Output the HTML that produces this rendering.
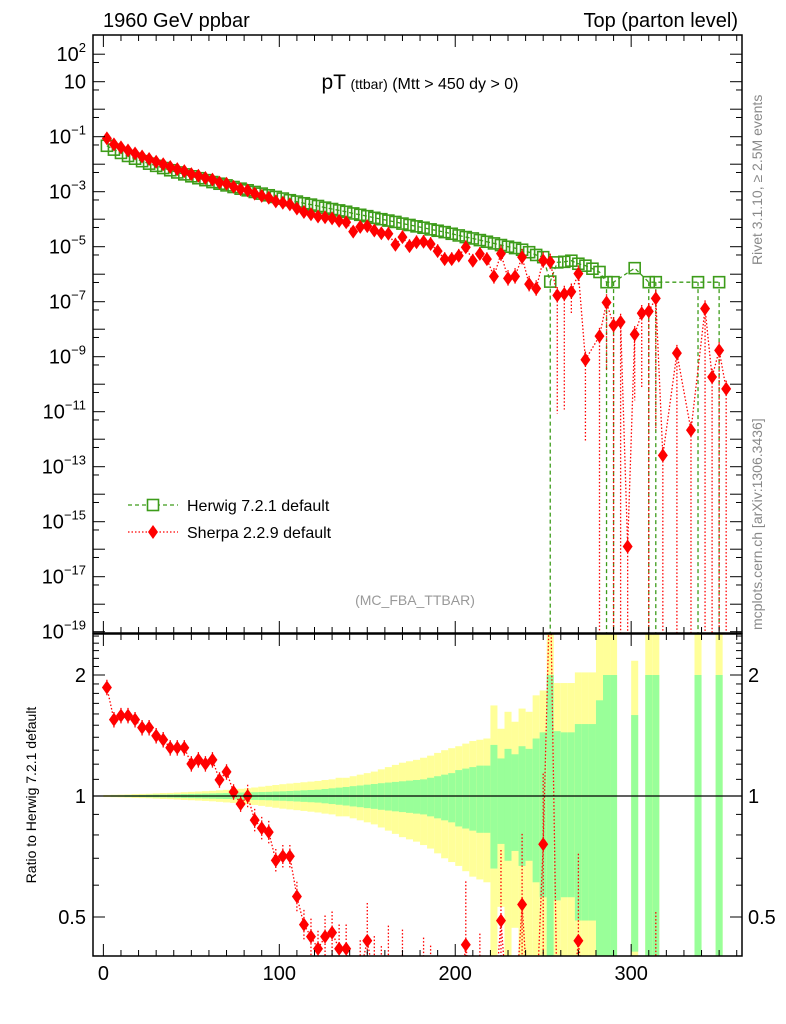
<!DOCTYPE html>
<html><head><meta charset="utf-8"><style>
html,body{margin:0;padding:0;background:#fff;width:786px;height:1024px;overflow:hidden;}
svg{display:block;font-family:"Liberation Sans",Arial,sans-serif;}
</style></head><body>
<svg id="c" width="786" height="1024" viewBox="0 0 786 1024" xmlns="http://www.w3.org/2000/svg">
<defs>
<clipPath id="cm"><rect x="93" y="35" width="649" height="598"/></clipPath>
<clipPath id="cr"><rect x="93" y="634" width="649" height="322"/></clipPath>
</defs>
<rect x="0" y="0" width="786" height="1024" fill="#fff"/>
<g id="bands" clip-path="url(#cr)"></g>
<g id="mainMarks" clip-path="url(#cm)"></g>
<g id="ratioMarks" clip-path="url(#cr)"></g>
<g id="axes"></g>
<text x="103" y="27" font-size="20">1960 GeV ppbar</text>
<text x="738" y="27" font-size="20" text-anchor="end">Top (parton level)</text>
<text x="420" y="89" text-anchor="middle"><tspan font-size="21">pT</tspan><tspan font-size="16"> </tspan><tspan font-size="14">(ttbar)</tspan><tspan font-size="16"> (Mtt &gt; 450 dy &gt; 0)</tspan></text>
<text x="415" y="605" font-size="14" fill="#999" text-anchor="middle">(MC_FBA_TTBAR)</text>
<text transform="translate(762,265) rotate(-90)" font-size="14" fill="#888">Rivet 3.1.10, ≥ 2.5M events</text>
<text transform="translate(762,630) rotate(-90)" font-size="14" fill="#888">mcplots.cern.ch [arXiv:1306.3436]</text>
<text transform="translate(36,795) rotate(-90)" font-size="14" text-anchor="middle">Ratio to Herwig 7.2.1 default</text>
<g>
<g>
<line x1="128" y1="505" x2="178" y2="505" stroke="#3d9c1a" stroke-width="1.3" stroke-dasharray="4,3"/>
<line x1="153" y1="499" x2="153" y2="511" stroke="#3d9c1a" stroke-width="1.3"/>
<rect x="147.5" y="499.5" width="11" height="11" fill="#fff" stroke="#3d9c1a" stroke-width="1.6"/>
<text x="187" y="511" font-size="16">Herwig 7.2.1 default</text>
</g>
<g>
<line x1="128" y1="532" x2="178" y2="532" stroke="#f00" stroke-width="1.3" stroke-dasharray="1.5,2"/>
<polygon points="153,525 158,532 153,539 148,532" fill="#f00"/>
<text x="187" y="538" font-size="16">Sherpa 2.2.9 default</text>
</g>
</g>
</svg>
<script>
const binLow = 0;
const binWidth = 4;
const herwigLog = [-1.33,-1.47,-1.59,-1.70,-1.80,-1.89,-1.98,-2.06,-2.14,-2.22,
-2.30,-2.37,-2.44,-2.51,-2.58,-2.65,-2.71,-2.77,-2.83,-2.89,
-2.95,-3.01,-3.07,-3.13,-3.19,-3.25,-3.31,-3.36,-3.42,-3.47,
-3.52,-3.58,-3.63,-3.68,-3.73,-3.79,-3.84,-3.89,-3.95,-4.00,
-4.05,-4.10,-4.16,-4.21,-4.26,-4.31,-4.37,-4.42,-4.47,-4.53,
-4.59,-4.65,-4.70,-4.76,-4.82,-4.88,-4.94,-5.00,-5.05,-5.11,
-5.20,-5.30,-5.38,-6.27,-5.57,-5.55,-5.51,-5.62,-5.69,-5.80,
-5.92,-6.29,-6.29,null,null,-5.78,null,-6.29,-6.29,null,
null,null,null,null,-6.29,null,null,-6.29,null,null];
const sherpaLog = [-1.06,-1.28,-1.39,-1.50,-1.61,-1.72,-1.81,-1.91,-2.00,-2.10,
-2.18,-2.25,-2.36,-2.42,-2.50,-2.56,-2.67,-2.71,-2.82,-2.91,
-2.95,-3.07,-3.15,-3.22,-3.35,-3.40,-3.46,-3.61,-3.74,-3.82,
-3.90,-3.93,-3.97,-4.06,-4.11,-4.45,-4.28,-4.25,-4.41,-4.51,
-4.53,-4.93,-4.65,-4.98,-4.84,-4.82,-4.90,-5.16,-5.45,-5.45,
-5.33,-5.02,-5.51,-5.26,-5.45,-6.08,-5.25,-6.15,-6.08,-5.38,
-6.36,-6.52,-5.50,-5.55,-6.77,-6.72,-6.64,-5.98,-9.11,null,
-8.25,-7.03,-7.86,-7.74,-15.9,-8.19,-7.42,-7.35,-6.88,-12.59,
null,-8.87,null,-11.67,null,-7.25,-9.74,-8.77,-10.17,null];
const sherpaErrDn = [0.02,0.02,0.02,0.02,0.02,0.02,0.02,0.02,0.02,0.02,
0.02,0.02,0.02,0.02,0.02,0.02,0.02,0.02,0.02,0.02,
0.03,0.03,0.03,0.03,0.03,0.03,0.03,0.04,0.04,0.05,
0.05,0.06,0.06,0.07,0.07,0.1,0.1,0.12,0.15,0.2,
0.25,0.25,0.25,0.25,0.25,0.25,0.25,0.25,0.25,0.25,
0.25,0.25,0.25,0.25,0.25,0.3,0.3,0.3,0.3,0.3,
0.3,0.3,0.3,0.3,4.3,4.2,0.8,0.45,3,0,
99,2.5,99,99,99,2.4,2.7,99,4.8,99,
0,99,0,99,0,99,99,99,99,0];
const bandGreen = [.003,.004,.004,.005,.005,.006,.007,.008,.008,.009,
.010,.011,.012,.013,.014,.015,.016,.017,.018,.020,
.021,.022,.023,.024,.026,.027,.029,.031,.033,.035,
.037,.041,.045,.049,.053,.058,.062,.067,.071,.076,
.080,.084,.088,.092,.096,.10,.11,.12,.13,.14,
.16,.17,.18,.19,.19,.34,.24,.31,.27,.33,
.31,.39,.44,1,.45,.44,.44,.51,.51,.51,
.73,1,1,null,null,.59,null,1,1,null,
null,null,null,null,1,null,null,1,null,null];
const bandYellow = [.006,.007,.008,.009,.011,.012,.013,.015,.017,.018,
.020,.022,.024,.026,.028,.030,.033,.036,.039,.042,
.045,.050,.055,.060,.065,.070,.074,.078,.082,.086,
.09,.096,.10,.11,.11,.12,.13,.14,.15,.165,
.18,.195,.21,.22,.23,.245,.26,.28,.30,.315,
.33,.35,.37,.38,.39,.68,.47,.62,.53,.65,
.62,.78,.83,1.6,.91,.91,.91,1.03,1.03,1.03,
1.6,1.6,1.6,null,null,1.17,null,1.6,1.6,null,
null,null,null,null,1.6,null,null,1.6,null,null];
const xTickLabels = ["0","100","200","300"];
const yMainLabels = [2,1,-1,-3,-5,-7,-9,-11,-13,-15,-17,-19];
const yRatioLabels = ["0.5","1","2"];

const NS = "http://www.w3.org/2000/svg";
function mk(tag, attrs, parent){ const e=document.createElementNS(NS,tag); for(const k in attrs) e.setAttribute(k,attrs[k]); parent.appendChild(e); return e; }
const X0=93, X1=742, XMIN=-5.9, XMAX=363;
function xs(v){ return X0+(v-XMIN)/(XMAX-XMIN)*(X1-X0); }
function ym(lg){ return 81.7+(1-lg)*27.5; }
function yr(r){ return 796-121*Math.log2(r); }
const MT=35, MB=633, RT=634, RB=956;

const bands=document.getElementById('bands');
for(let i=0;i<bandGreen.length;i++){
  if(bandGreen[i]==null) continue;
  const xl=xs(binLow+i*binWidth), xr=xs(binLow+(i+1)*binWidth);
  const ey=bandYellow[i], eg=bandGreen[i];
  const yt=Math.max(yr(1+ey),RT-5), yb=(1-ey)>0.01?Math.min(yr(1-ey),RB+5):RB+5;
  const ry=mk('rect',{x:xl,y:yt,width:xr-xl,height:yb-yt,fill:'#ffff99'},bands);
  
  
  const gt=Math.max(yr(1+eg),RT-5), gb=(1-eg)>0.01?Math.min(yr(1-eg),RB+5):RB+5;
  const rg=mk('rect',{x:xl,y:gt,width:xr-xl,height:gb-gt,fill:'#99ff99'},bands);
  
  
}

const axes=document.getElementById('axes');
mk('rect',{x:X0,y:MT,width:X1-X0,height:MB-MT,fill:'none',stroke:'#000','stroke-width':1.5},axes);
mk('rect',{x:X0,y:RT,width:X1-X0,height:RB-RT,fill:'none',stroke:'#000','stroke-width':1.5},axes);
const ul=mk('line',{x1:X0,y1:yr(1),x2:X1,y2:yr(1),stroke:'#000','stroke-width':1.2},axes);


for(let v=0; v<=360; v+=10){
  const x=xs(v), big=(v%100===0), len=big?12:6;
  mk('line',{x1:x,y1:RB,x2:x,y2:RB-len,stroke:'#000','stroke-width':1},axes);
  mk('line',{x1:x,y1:RT,x2:x,y2:RT+len,stroke:'#000','stroke-width':1},axes);
  mk('line',{x1:x,y1:MB,x2:x,y2:MB-len,stroke:'#000','stroke-width':1},axes);
  mk('line',{x1:x,y1:MT,x2:x,y2:MT+len,stroke:'#000','stroke-width':1},axes);
}
xTickLabels.forEach(s=>{
  const t=mk('text',{x:xs(+s),y:980,'font-size':20,'text-anchor':'middle'},axes);
  t.textContent=s;
  
  
});
for(let d=2; d>=-19; d--){
  const y=ym(d);
  if(y>MT && y<MB){
    mk('line',{x1:X0,y1:y,x2:X0+12,y2:y,stroke:'#000'},axes);
    mk('line',{x1:X1,y1:y,x2:X1-12,y2:y,stroke:'#000'},axes);
  }
  const y5=ym(d-1+Math.log10(5));
  if(y5>MT && y5<MB){
    mk('line',{x1:X0,y1:y5,x2:X0+6,y2:y5,stroke:'#000'},axes);
    mk('line',{x1:X1,y1:y5,x2:X1-6,y2:y5,stroke:'#000'},axes);
  }
}
yMainLabels.forEach(d=>{
  const t=mk('text',{x:86,y:ym(d)+7,'font-size':20,'text-anchor':'end'},axes);
  
  
  if(d===1){ t.textContent='10'; }
  else { t.textContent='10'; const s=mk('tspan',{'font-size':13,dy:-9},t); s.textContent=String(d).replace('-','\u2212'); }
});
const rMinor=[0.4,0.5,0.6,0.7,0.8,0.9,1,1.1,1.2,1.3,1.4,1.5,1.6,1.7,1.8,1.9,2,2.1,2.2,2.3,2.4,2.5];
rMinor.forEach(r=>{
  const y=yr(r); if(y<=RT||y>=RB) return;
  const big=(r===0.5||r===1||r===2), len=big?12:6;
  mk('line',{x1:X0,y1:y,x2:X0+len,y2:y,stroke:'#000'},axes);
  mk('line',{x1:X1,y1:y,x2:X1-len,y2:y,stroke:'#000'},axes);
});
yRatioLabels.forEach(s=>{
  const t=mk('text',{x:86,y:yr(+s)+7,'font-size':20,'text-anchor':'end'},axes);
  t.textContent=s;
  
  
  const t2=mk('text',{x:748,y:yr(+s)+7,'font-size':20},axes);
  t2.textContent=s;
  
  
});

const mm=document.getElementById('mainMarks');
const cx=i=>xs(binLow+(i+0.5)*binWidth);
let hp=[];
herwigLog.forEach((v,i)=>{ if(v!=null) hp.push(cx(i)+','+ym(v)); });
const hl=mk('polyline',{points:hp.join(' '),fill:'none',stroke:'#3d9c1a','stroke-width':1.3,'stroke-dasharray':'4,3'},mm);


herwigLog.forEach((v,i)=>{
  if(v==null) return;
  if(bandGreen[i]>=1){ const e=mk('line',{x1:cx(i),y1:ym(v),x2:cx(i),y2:MB+5,stroke:'#3d9c1a','stroke-width':1.3,'stroke-dasharray':'4,3'},mm);
    
     }
  const r=mk('rect',{x:cx(i)-5.5,y:ym(v)-5.5,width:11,height:11,fill:'none',stroke:'#3d9c1a','stroke-width':1.6},mm);
  
  
});
let sp=[];
sherpaLog.forEach((v,i)=>{ if(v!=null) sp.push(cx(i)+','+ym(v)); });
const sl=mk('polyline',{points:sp.join(' '),fill:'none',stroke:'#f00','stroke-width':1.3,'stroke-dasharray':'1.5,2'},mm);


sherpaLog.forEach((v,i)=>{
  if(v==null) return;
  const x=cx(i), y=ym(v), ed=sherpaErrDn[i];
  if(ed>0.05){
    const yd=ed>50?MB+5:ym(v-ed), yu=ym(v+Math.min(ed,0.3));
    const e=mk('line',{x1:x,y1:yu,x2:x,y2:yd,stroke:'#f00','stroke-width':1.3,'stroke-dasharray':'1.5,2'},mm);
    
    
  }
  const p=mk('polygon',{points:`${x},${y-7} ${x+5},${y} ${x},${y+7} ${x-5},${y}`,fill:'#f00'},mm);
  
  
});

const rm=document.getElementById('ratioMarks');
let rp=[];
const ratios=sherpaLog.map((v,i)=> (v==null||herwigLog[i]==null)?null:Math.pow(10,v-herwigLog[i]));
ratios.forEach((r,i)=>{ if(r!=null) rp.push(cx(i)+','+Math.max(Math.min(yr(r),RB+60),RT-60)); });
const rl=mk('polyline',{points:rp.join(' '),fill:'none',stroke:'#f00','stroke-width':1.3,'stroke-dasharray':'1.5,2'},rm);


ratios.forEach((r,i)=>{
  if(r==null) return;
  const x=cx(i), y=yr(r), ed=sherpaErrDn[i];
  const d=ed>50?1:1-Math.pow(10,-ed);
  if(d>0.03){
    const yu=Math.max(yr(r*(1+d)),RT-5), yd=(r*(1-d))>0.01?Math.min(yr(r*(1-d)),RB+5):RB+5;
    if(yu<RB){
      const e=mk('line',{x1:x,y1:yu,x2:x,y2:yd,stroke:'#f00','stroke-width':1.3,'stroke-dasharray':'1.5,2'},rm);
      
      
    }
  }
  if(y<RT-10||y>RB+10) return;
  const p=mk('polygon',{points:`${x},${y-7} ${x+5},${y} ${x},${y+7} ${x-5},${y}`,fill:'#f00'},rm);
  
  
});
</script>
</body></html>
